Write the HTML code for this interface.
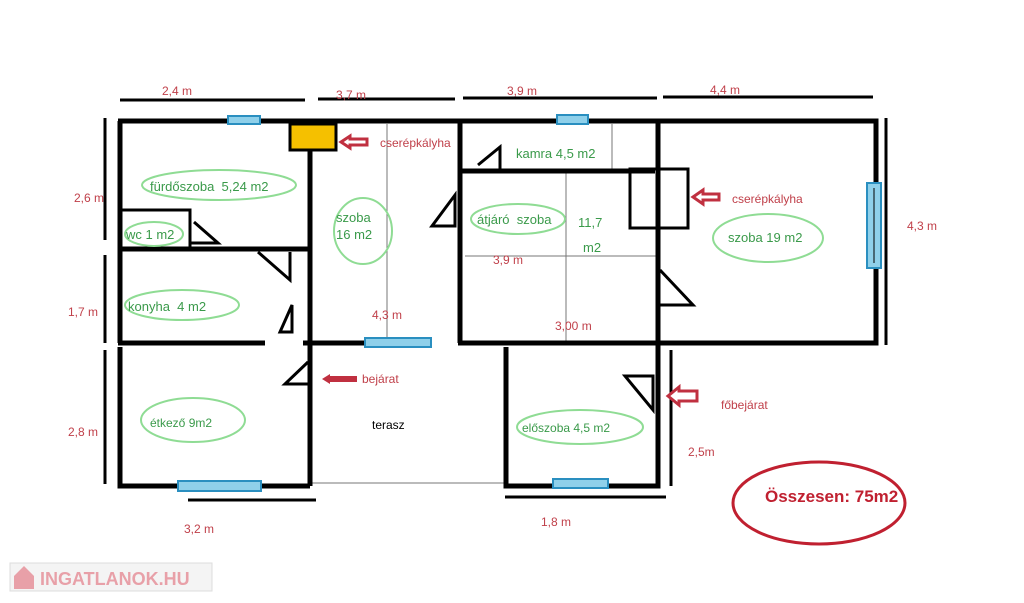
<!DOCTYPE html>
<html><head><meta charset="utf-8"><style>
body{margin:0;background:#fff;width:1024px;height:603px;overflow:hidden}
svg{display:block}
text{font-family:"Liberation Sans",sans-serif}
.r{fill:#c0404a;font-size:12px}
.g{fill:#3a9a4a;font-size:13px}
.e{fill:none;stroke:#8fdc94;stroke-width:2}
.w{stroke:#000;stroke-width:5;fill:none}
.d{stroke:#000;stroke-width:3}
.win{fill:#8fd0ea;stroke:#2a8fc0;stroke-width:2}
.t{stroke:#777;stroke-width:1}
.door{stroke:#000;stroke-width:3;fill:none}
</style></head><body>
<svg width="1024" height="603" viewBox="0 0 1024 603" xmlns="http://www.w3.org/2000/svg">
<line class="d" x1="120" y1="100" x2="305" y2="100"/>
<line class="d" x1="318" y1="99" x2="455" y2="99"/>
<line class="d" x1="463" y1="98" x2="657" y2="98"/>
<line class="d" x1="663" y1="97" x2="873" y2="97"/>
<line class="d" x1="105" y1="118" x2="105" y2="240"/>
<line class="d" x1="105" y1="255" x2="105" y2="343"/>
<line class="d" x1="105" y1="350" x2="105" y2="484"/>
<line class="d" x1="886" y1="118" x2="886" y2="345"/>
<line class="d" x1="671" y1="350" x2="671" y2="486"/>
<line class="d" x1="188" y1="500" x2="316" y2="500"/>
<line class="d" x1="505" y1="497" x2="666" y2="497"/>
<line class="t" x1="387" y1="124" x2="387" y2="343"/>
<line class="t" x1="566" y1="171" x2="566" y2="343"/>
<line class="t" x1="612" y1="124" x2="612" y2="171"/>
<line class="t" x1="465" y1="256" x2="660" y2="256"/>
<line class="t" x1="310" y1="483" x2="508" y2="483"/>
<path class="w" d="M118 121 H876 V343 H458 M420 343 H303 M265 343 H118 M120 121 V343"/>
<path class="w" d="M310 150 V486 M120 249 H310 M460 121 V343 M460 171 H655 M658 121 V343"/>
<path class="w" d="M120 347 V486 H310 M506 347 V486 H658 V343"/>
<rect x="121" y="210" width="69" height="39" fill="none" stroke="#000" stroke-width="3"/>
<rect x="630" y="169" width="58" height="59" fill="none" stroke="#000" stroke-width="3"/>
<rect x="290" y="124" width="46" height="26" fill="#f5c000" stroke="#000" stroke-width="3"/>
<path class="door" d="M194 222 L218 243 H190"/>
<path class="door" d="M258 252 L290 280 V252"/>
<path class="door" d="M292 305 V332 H280 Z"/>
<path class="door" d="M308 362 L285 384 H308"/>
<path class="door" d="M455 195 V226 H432 Z"/>
<path class="door" d="M478 165 L500 147 V171"/>
<path class="door" d="M660 270 L693 305 H660"/>
<path class="door" d="M625 376 H653 V410 Z"/>
<rect class="win" x="228" y="116" width="32" height="8"/>
<rect class="win" x="557" y="115" width="31" height="9"/>
<rect class="win" x="365" y="338" width="66" height="9"/>
<rect class="win" x="178" y="481" width="83" height="10"/>
<rect class="win" x="553" y="479" width="55" height="9"/>
<rect class="win" x="867" y="183" width="14" height="85"/>
<line x1="874" y1="188" x2="874" y2="263" stroke="#000" stroke-width="1"/>
<g fill="#fff" stroke="#c03040" stroke-width="3">
<path d="M341 142 L350 136 V139 H367 V145 H350 V148 Z"/>
<path d="M693 197 L703 190 V194 H719 V200 H703 V204 Z"/>
<path d="M668 396 L679 387 V391 H697 V401 H679 V405 Z"/>
</g>
<path d="M322 379 L330 374 V376 H357 V382 H330 V384 Z" fill="#c03040"/>
<ellipse class="e" cx="219" cy="185" rx="77" ry="15"/>
<ellipse class="e" cx="154" cy="234" rx="29" ry="12"/>
<ellipse class="e" cx="363" cy="231" rx="29" ry="33"/>
<ellipse class="e" cx="182" cy="305" rx="57" ry="15"/>
<ellipse class="e" cx="518" cy="219" rx="47" ry="15"/>
<ellipse class="e" cx="768" cy="238" rx="55" ry="24"/>
<ellipse class="e" cx="193" cy="420" rx="52" ry="22"/>
<ellipse class="e" cx="580" cy="427" rx="63" ry="17"/>
<ellipse cx="819" cy="503" rx="86" ry="41" fill="none" stroke="#c02030" stroke-width="3"/>
<text class="g" x="150" y="191">fürdőszoba&#160; 5,24 m2</text>
<text class="g" x="126" y="239">wc 1 m2</text>
<text class="g" x="336" y="222">szoba</text>
<text class="g" x="336" y="239">16 m2</text>
<text class="g" x="128" y="311">konyha&#160; 4 m2</text>
<text class="g" x="516" y="158">kamra 4,5 m2</text>
<text class="g" x="477" y="224">átjáró&#160; szoba</text>
<text class="g" x="578" y="227">11,7</text>
<text class="g" x="583" y="252">m2</text>
<text class="g" x="728" y="242">szoba 19 m2</text>
<text class="g" x="150" y="427" style="font-size:12px">étkező 9m2</text>
<text class="g" x="522" y="432" style="font-size:12px">előszoba 4,5 m2</text>
<text x="372" y="429" font-size="12" fill="#000">terasz</text>
<text class="r" x="162" y="95">2,4 m</text>
<text class="r" x="336" y="99">3,7 m</text>
<text class="r" x="507" y="95">3,9 m</text>
<text class="r" x="710" y="94">4,4 m</text>
<text class="r" x="74" y="202">2,6 m</text>
<text class="r" x="68" y="316">1,7 m</text>
<text class="r" x="68" y="436">2,8 m</text>
<text class="r" x="907" y="230">4,3 m</text>
<text class="r" x="372" y="319">4,3 m</text>
<text class="r" x="493" y="264">3,9 m</text>
<text class="r" x="555" y="330">3,00 m</text>
<text class="r" x="688" y="456">2,5m</text>
<text class="r" x="184" y="533">3,2 m</text>
<text class="r" x="541" y="526">1,8 m</text>
<text class="r" x="380" y="147">cserépkályha</text>
<text class="r" x="732" y="203">cserépkályha</text>
<text class="r" x="362" y="383">bejárat</text>
<text class="r" x="721" y="409">főbejárat</text>
<text x="765" y="502" font-size="17" font-weight="bold" fill="#c02030">Összesen: 75m2</text>
<rect x="10" y="563" width="202" height="28" fill="#f4f4f4" stroke="#ddd"/>
<path d="M14 576 L24 566 L34 576 V589 H14 Z" fill="#e8a0a8"/>
<text x="40" y="585" font-size="18" font-weight="bold" fill="#e8a0a8">INGATLANOK.HU</text>
</svg>
</body></html>
